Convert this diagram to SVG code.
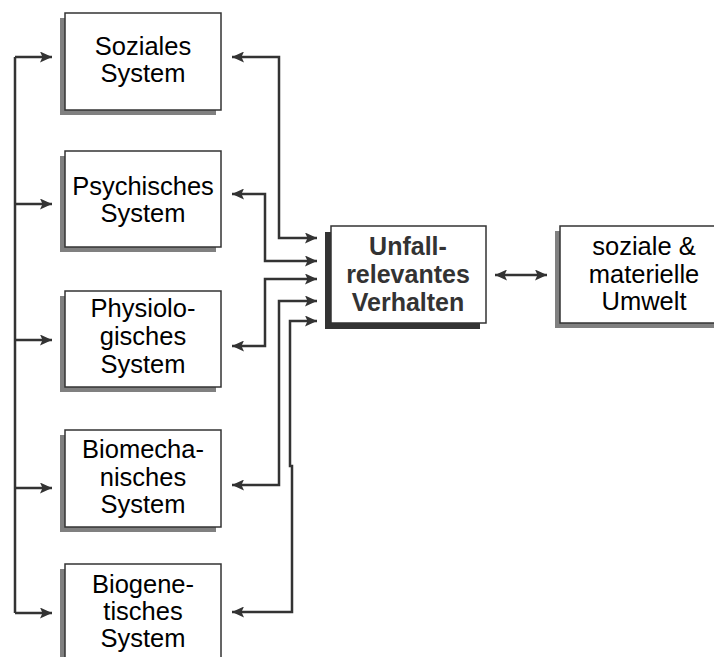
<svg xmlns="http://www.w3.org/2000/svg" width="714" height="657" viewBox="0 0 714 657">
<style>
.box{fill:#fff;stroke:#333;stroke-width:1.5}
.sh{fill:#808080}
.shd{fill:#333}
.t{font-family:"Liberation Sans",Arial,sans-serif;font-size:25.5px;fill:#000;text-anchor:middle}
.tb{font-family:"Liberation Sans",Arial,sans-serif;font-size:25px;font-weight:bold;fill:#333;text-anchor:middle}
.ln{fill:none;stroke:#333;stroke-width:2.5}
</style>
<defs>
<marker id="ah" markerUnits="userSpaceOnUse" markerWidth="13" markerHeight="11" viewBox="0 0 13 11" refX="12" refY="5.5" orient="auto-start-reverse">
<path d="M0,0 L12,5.5 L0,11 L2.5,5.5 z" fill="#333"/>
</marker>
</defs>
<rect width="714" height="657" fill="#fff"/>
<g id="soziales">
<rect class="sh" x="60" y="18" width="156" height="97"/>
<rect class="box" x="65" y="13" width="156" height="97"/>
<text class="t" x="143" y="55">Soziales</text>
<text class="t" x="143" y="82">System</text>
</g>
<g id="psychisches">
<rect class="sh" x="60" y="156" width="156" height="96"/>
<rect class="box" x="65" y="151" width="156" height="96"/>
<text class="t" x="143" y="195">Psychisches</text>
<text class="t" x="143" y="222">System</text>
</g>
<g id="physiologisches">
<rect class="sh" x="60" y="296" width="156" height="96"/>
<rect class="box" x="65" y="291" width="156" height="96"/>
<text class="t" x="143" y="317">Physiolo-</text>
<text class="t" x="143" y="345">gisches</text>
<text class="t" x="143" y="373">System</text>
</g>
<g id="biomechanisches">
<rect class="sh" x="60" y="435" width="156" height="97"/>
<rect class="box" x="65" y="430" width="156" height="97"/>
<text class="t" x="143" y="458">Biomecha-</text>
<text class="t" x="143" y="486">nisches</text>
<text class="t" x="143" y="513">System</text>
</g>
<g id="biogenetisches">
<rect class="sh" x="60" y="569" width="156" height="97"/>
<rect class="box" x="65" y="564" width="156" height="97"/>
<text class="t" x="143" y="593">Biogene-</text>
<text class="t" x="143" y="620">tisches</text>
<text class="t" x="143" y="647">System</text>
</g>
<g id="unfall">
<rect class="shd" x="325" y="232" width="155" height="97"/>
<rect class="box" x="331" y="226" width="155" height="97"/>
<text class="tb" x="408" y="255">Unfall-</text>
<text class="tb" x="408" y="283">relevantes</text>
<text class="tb" x="408" y="311">Verhalten</text>
</g>
<g id="umwelt">
<rect class="sh" x="555" y="231" width="165" height="97"/>
<rect class="box" x="560" y="226" width="165" height="97"/>
<text class="t" x="644" y="255">soziale &amp;</text>
<text class="t" x="644" y="283">materielle</text>
<text class="t" x="644" y="310">Umwelt</text>
</g>
<g id="connectors">
<path class="ln" d="M15,57 V613"/>
<path class="ln" d="M15,57 H52" marker-end="url(#ah)"/>
<path class="ln" d="M15,204 H52" marker-end="url(#ah)"/>
<path class="ln" d="M15,340 H52" marker-end="url(#ah)"/>
<path class="ln" d="M15,488 H52" marker-end="url(#ah)"/>
<path class="ln" d="M15,613 H52" marker-end="url(#ah)"/>
<path class="ln" d="M232,57 H279 V238 H317" marker-start="url(#ah)" marker-end="url(#ah)"/>
<path class="ln" d="M232,194 H265 V261 H317" marker-start="url(#ah)" marker-end="url(#ah)"/>
<path class="ln" d="M232,346 H265 V279 H317" marker-start="url(#ah)" marker-end="url(#ah)"/>
<path class="ln" d="M232,485 H279 V301 H317" marker-start="url(#ah)" marker-end="url(#ah)"/>
<path class="ln" d="M232,612 H292 V466 H290 V321 H317" marker-start="url(#ah)" marker-end="url(#ah)"/>
<path class="ln" d="M495,275 H547" marker-start="url(#ah)" marker-end="url(#ah)"/>
</g>
</svg>
